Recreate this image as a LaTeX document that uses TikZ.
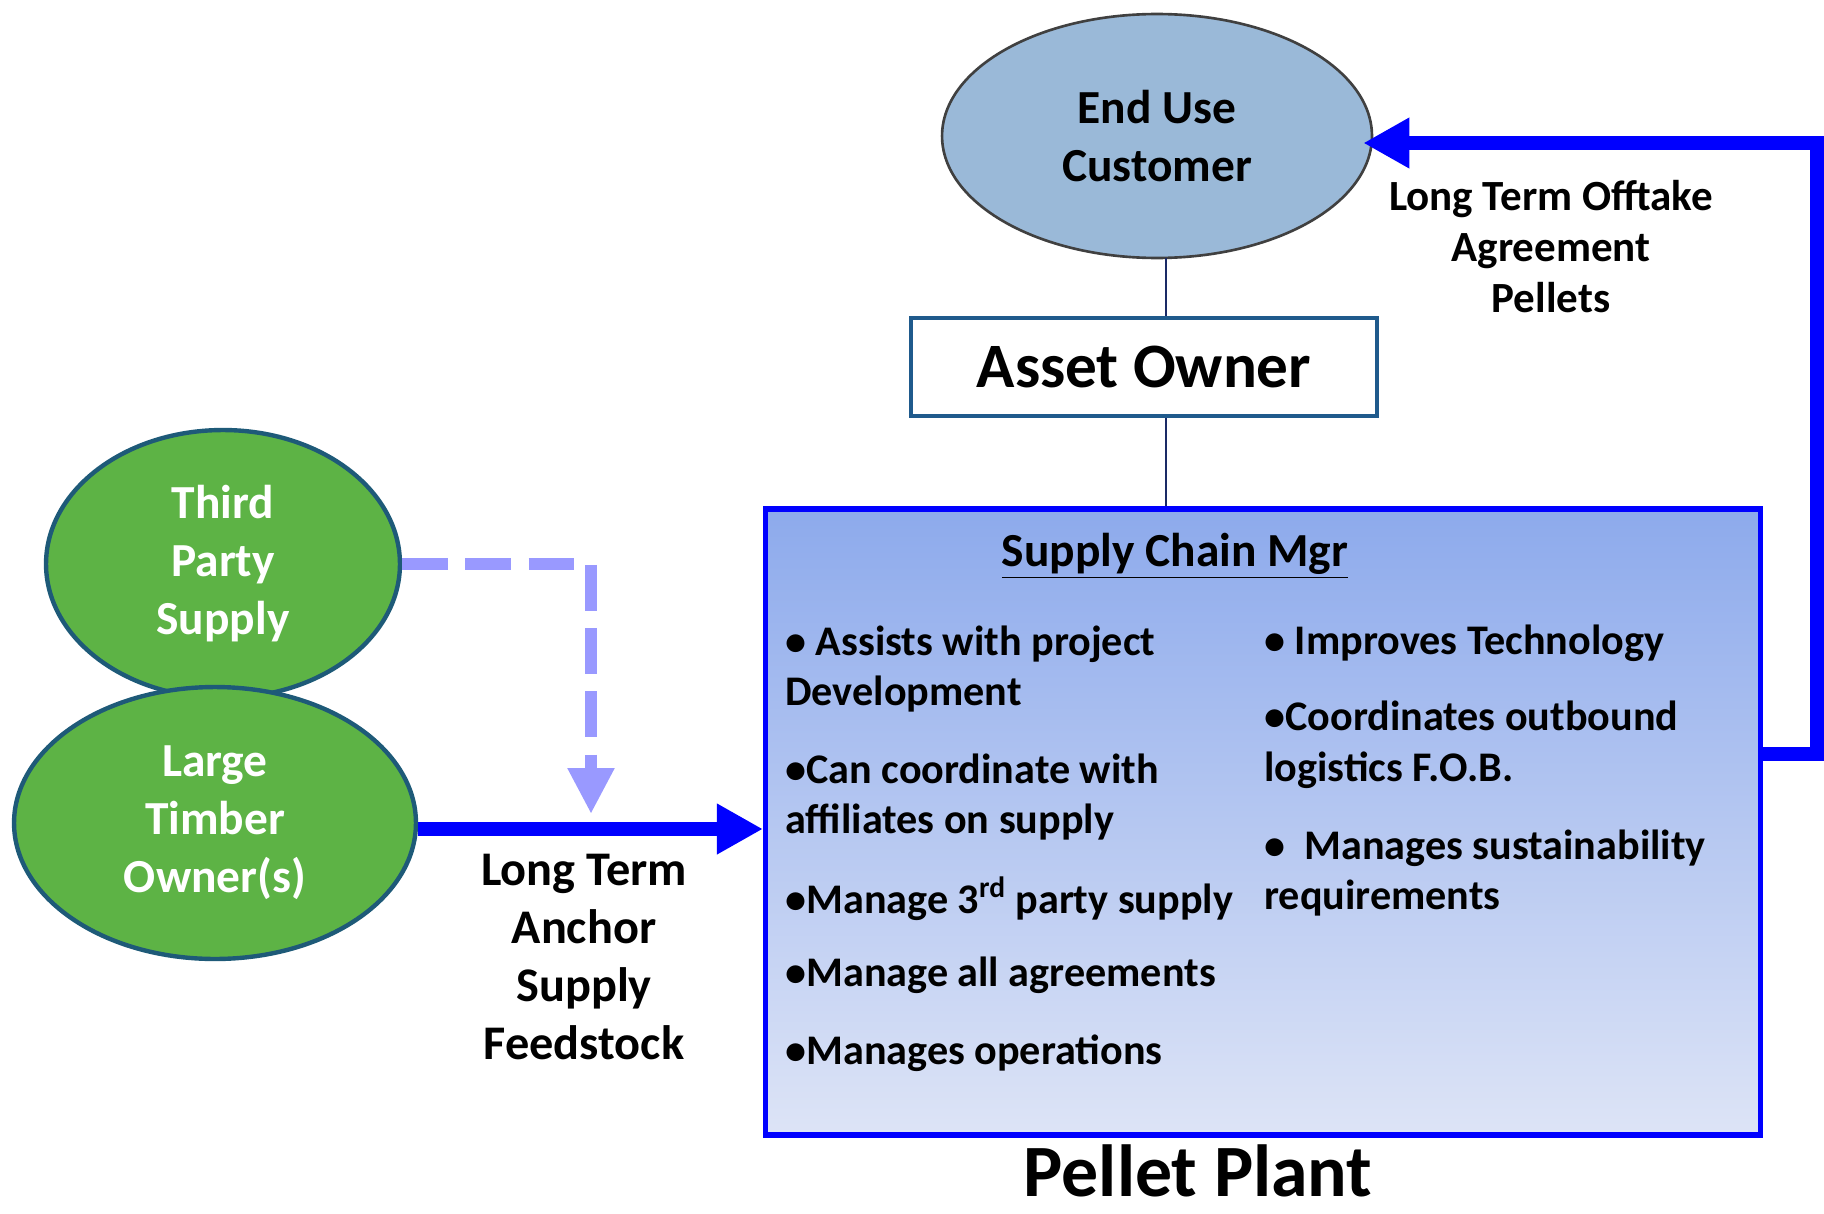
\documentclass[tikz,border=0pt]{standalone}
\usepackage{fontspec}
\setmainfont{Carlito}[BoldFont={Carlito Bold}]
\usetikzlibrary{shapes.geometric}
\usetikzlibrary{arrows.meta}
\usepackage{xcolor}
\definecolor{leafgreen}{HTML}{5DB345}
\definecolor{leafedge}{HTML}{1E5A78}
\definecolor{custblue}{HTML}{9AB9D8}
\definecolor{scmtop}{HTML}{8DAAEC}
\definecolor{scmbottom}{HTML}{DDE4F6}
\definecolor{dashblue}{HTML}{9999FF}
\definecolor{linknavy}{HTML}{1A2A66}
\definecolor{ownerblue}{HTML}{1F5A8C}

\begin{document}
\begin{tikzpicture}[x=0.02cm,y=-0.02cm,
  grower/.style={ellipse, draw=leafedge, line width=2.5pt, fill=leafgreen, text=white, align=center, inner sep=0pt, font=\fontsize{27}{33}\selectfont\bfseries},
  bullet/.style={anchor=west, align=left, inner sep=0pt, font=\fontsize{24}{29}\selectfont\bfseries},
  flowlabel/.style={align=center, inner sep=0pt, font=\fontsize{24.5}{29}\selectfont\bfseries},
  bigflow/.style={blue, line width=8pt, -{Triangle[length=0.92cm, width=0.95cm]}}]
\useasboundingbox (0,0) rectangle (1824,1213);
\node[grower, minimum width=7.08cm, minimum height=5.36cm] (third) at (223,564) {Third\\Party\\Supply};
\node[grower, minimum width=8.04cm, minimum height=5.44cm] (timber) at (215,823) {Large\\Timber\\Owner(s)};
\node[ellipse, draw=black!75, line width=1.5pt, fill=custblue, align=center, inner sep=0pt, minimum width=8.6cm, minimum height=4.88cm, font=\fontsize{27}{33}\selectfont\bfseries] (cust) at (1157,136) {End Use\\Customer};
\node[draw=ownerblue, line width=2.5pt, fill=white, minimum width=9.32cm, minimum height=1.96cm, font=\fontsize{36}{40}\selectfont\bfseries] (owner) at (1144,367) {Asset Owner};
\node[draw=blue, line width=3pt, top color=scmtop, bottom color=scmbottom, minimum width=19.9cm, minimum height=12.52cm] (scm) at (1263,822) {};
\coordinate (stem) at (1166,258);
\draw[linknavy, line width=1.5pt] (stem) -- (stem |- owner.north);
\draw[linknavy, line width=1.5pt] (stem |- owner.south) -- (stem |- scm.north);
\node[font=\fontsize{27}{33}\selectfont\bfseries] (scmtitle) at (1175,556) {\underline{Supply Chain Mgr}};
\node[bullet] (b1) at (785,669) {• Assists with project\\Development};
\node[bullet] (b2) at (785,797) {•Can coordinate with\\affiliates on supply};
\node[bullet] (b3) at (785,899) {•Manage 3\textsuperscript{rd} party supply};
\node[bullet] (b4) at (785,975) {•Manage all agreements};
\node[bullet] (b5) at (785,1053) {•Manages operations};
\node[bullet] (b6) at (1264,643) {• Improves Technology};
\node[bullet] (b7) at (1264,745) {•Coordinates outbound\\logistics F.O.B.};
\node[bullet] (b8) at (1264,873) {•\ \ Manages sustainability\\requirements};
\node[inner sep=0pt, font=\fontsize{42}{46}\selectfont\bfseries] (plant) at (1198,1171) {Pellet Plant};
\coordinate (drop) at (591,814);
\draw[dashblue, line width=6.5pt, dash pattern=on 26pt off 10pt, -{Triangle[length=0.92cm, width=0.88cm]}] (third.east) -| (drop);
\draw[bigflow] ([yshift=-0.12cm]timber.east) -- ([yshift=-0.12cm]timber.east -| scm.west);
\node[flowlabel, font=\fontsize{27.5}{33}\selectfont\bfseries] (anchorlbl) at (584,957) {Long Term\\Anchor\\Supply\\Feedstock};
\coordinate (loopout) at (1761,754);
\coordinate (rail) at (1817,143);
\draw[bigflow] (loopout) -| (rail) -- ([xshift=-0.2cm]rail -| cust.east);
\node[flowlabel] (offtakelbl) at (1551,247) {Long Term Offtake\\Agreement\\Pellets};
\end{tikzpicture}
\end{document}
